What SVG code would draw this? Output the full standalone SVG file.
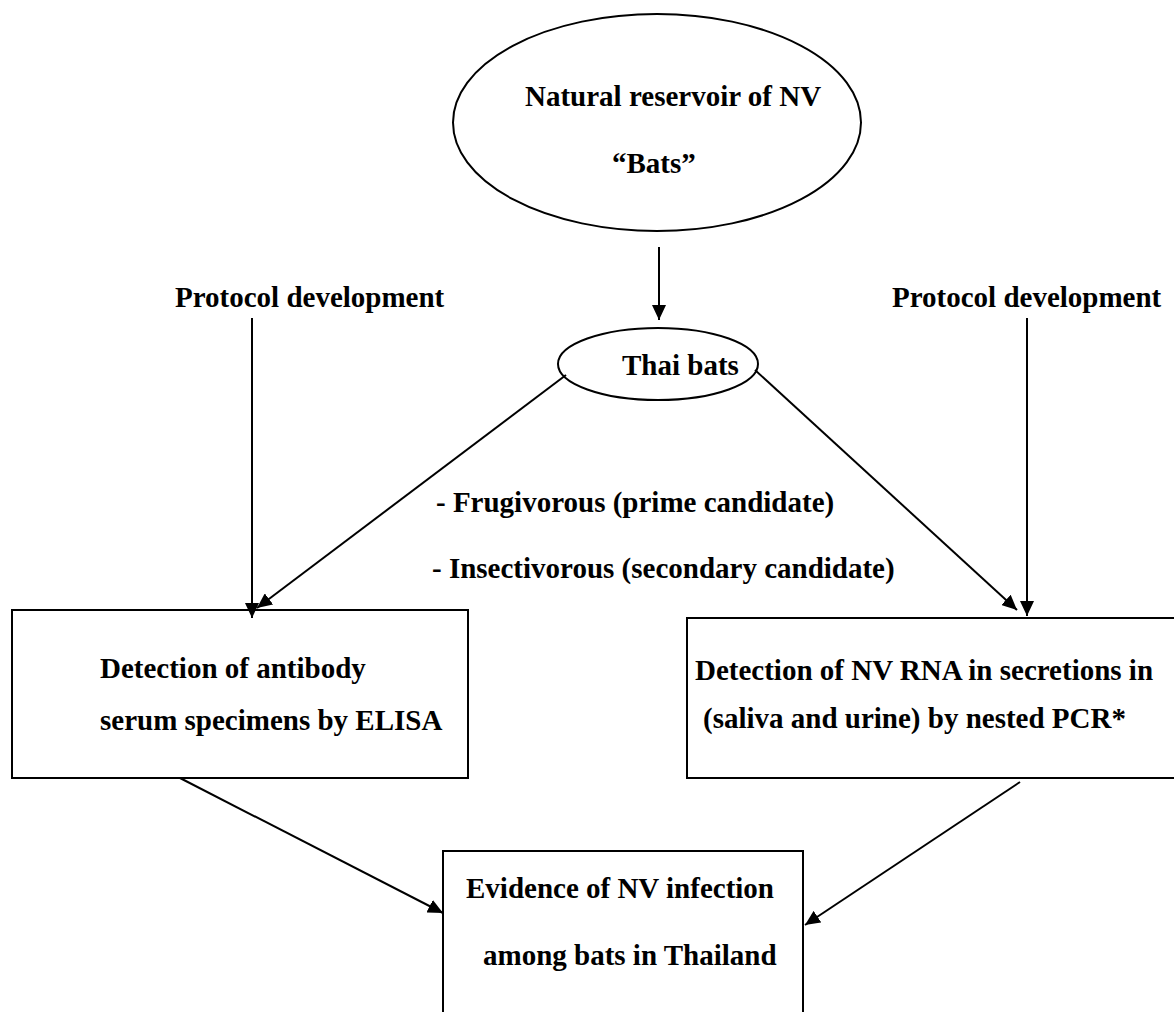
<svg xmlns="http://www.w3.org/2000/svg" width="1174" height="1012" viewBox="0 0 1174 1012">
<style>
text{font-family:"Liberation Serif","Times New Roman",serif;font-weight:bold;font-size:29px;fill:#000}
.box{fill:none;stroke:#000;stroke-width:2}
.edge{fill:none;stroke:#000;stroke-width:2}
</style>
<defs>
<marker id="ah" markerUnits="userSpaceOnUse" markerWidth="16" markerHeight="14" refX="15" refY="7" orient="auto">
<path d="M0,0 L15,7 L0,14 z" fill="#000"/>
</marker>
</defs>
<rect width="1174" height="1012" fill="#fff"/>
<g id="connectors">
<line class="edge" x1="659" y1="247" x2="659" y2="320" marker-end="url(#ah)"/>
<line class="edge" x1="252" y1="318" x2="252" y2="618" marker-end="url(#ah)"/>
<line class="edge" x1="1027" y1="318" x2="1027" y2="616" marker-end="url(#ah)"/>
<line class="edge" x1="566" y1="375" x2="257" y2="608" marker-end="url(#ah)"/>
<line class="edge" x1="755" y1="370" x2="1017" y2="610" marker-end="url(#ah)"/>
<line class="edge" x1="180" y1="778" x2="443" y2="913" marker-end="url(#ah)"/>
<line class="edge" x1="1020" y1="782" x2="805" y2="925" marker-end="url(#ah)"/>
</g>
<g id="reservoir">
<ellipse class="box" cx="657" cy="122.5" rx="204" ry="108.5"/>
<text x="525" y="106">Natural reservoir of NV</text>
<text x="612" y="173">“Bats”</text>
</g>
<g id="thai-bats">
<ellipse class="box" cx="658" cy="364" rx="100" ry="36"/>
<text x="622" y="375">Thai bats</text>
</g>
<g id="protocol-left">
<text x="175" y="307">Protocol development</text>
</g>
<g id="protocol-right">
<text x="892" y="307">Protocol development</text>
</g>
<g id="candidates">
<text x="436" y="512">- Frugivorous (prime candidate)</text>
<text x="432" y="578">- Insectivorous (secondary candidate)</text>
</g>
<g id="elisa">
<rect class="box" x="12" y="610" width="456" height="168"/>
<text x="100" y="678">Detection of antibody</text>
<text x="100" y="730">serum specimens by ELISA</text>
</g>
<g id="pcr">
<rect class="box" x="687" y="618" width="500" height="160"/>
<text x="695" y="680">Detection of NV RNA in secretions in</text>
<text x="703" y="728">(saliva and urine) by nested PCR*</text>
</g>
<g id="evidence">
<rect class="box" x="443" y="851" width="360" height="180"/>
<text x="466" y="898">Evidence of NV infection</text>
<text x="483" y="965">among bats in Thailand</text>
</g>
</svg>
